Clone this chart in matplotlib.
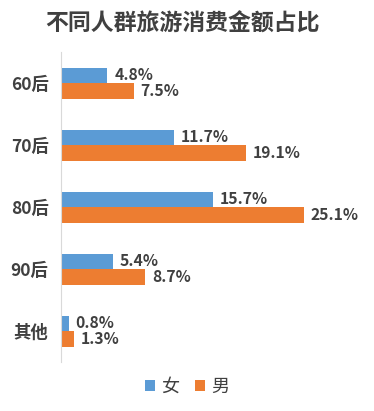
import matplotlib.pyplot as plt
import numpy as np

plt.rcParams['font.family'] = ['Noto Sans CJK SC', 'DejaVu Sans']

groups = ['60后', '70后', '80后', '90后', '其他']
female = [4.8, 11.7, 15.7, 5.4, 0.8]
male = [7.5, 19.1, 25.1, 8.7, 1.3]
series_names = ['女', '男']

c_blue = '#5B9BD5'
c_orange = '#ED7D31'
txt = '#404040'

fig = plt.figure(figsize=(3.74, 4.11), dpi=100)
ax = fig.add_axes([61/374, 1-362/411, 1-61/374-0.01, 310/411])

y = np.arange(len(groups))
h = 0.25
ax.barh(y - h/2, female, height=h, color=c_blue, label=series_names[0])
ax.barh(y + h/2, male, height=h, color=c_orange, label=series_names[1])

for yi, v in zip(y, female):
    ax.text(v + 0.7, yi - h/2, f'{v}%', va='center', ha='left',
            fontsize=11.3, fontweight='bold', color=txt)
for yi, v in zip(y, male):
    ax.text(v + 0.7, yi + h/2, f'{v}%', va='center', ha='left',
            fontsize=11.3, fontweight='bold', color=txt)

ax.set_ylim(4.5, -0.5)
ax.set_xlim(0, (374-61)/9.8)
ax.set_yticks(y)
ax.set_yticklabels(groups, fontsize=12.5, fontweight='bold', color=txt)
ax.tick_params(axis='y', length=0, pad=9)
ax.set_xticks([])
for s in ['top', 'right', 'bottom']:
    ax.spines[s].set_visible(False)
ax.spines['left'].set_color('#D9D9D9')

fig.text(0.487, 1-24/411, '不同人群旅游消费金额占比', ha='center', va='center',
         fontsize=16.5, fontweight='bold', color=txt)

fig.legend(loc='center', bbox_to_anchor=(187/374, 1-387/411), ncol=2, frameon=False,
           handlelength=0.55, handleheight=0.55, handletextpad=0.35, columnspacing=0.9,
           prop={'size': 13}, labelcolor=txt)

fig.savefig('out.png', dpi=100)
